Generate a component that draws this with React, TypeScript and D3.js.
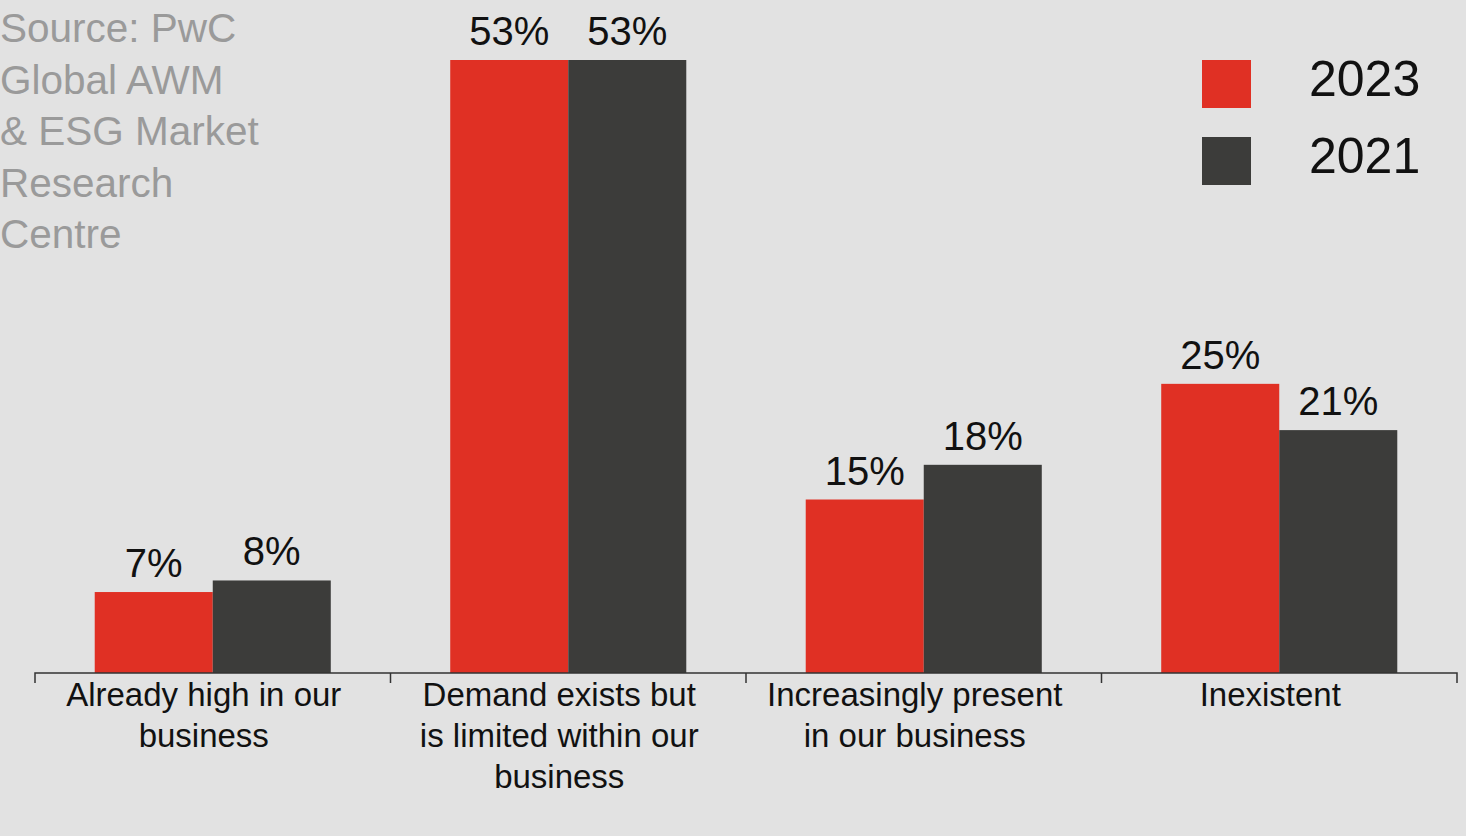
import React from "react";
import * as d3 from "d3";

const categories: string[][] = [
  ["Already high in our", "business"],
  ["Demand exists but", "is limited within our", "business"],
  ["Increasingly present", "in our business"],
  ["Inexistent"],
];
const series = ["2023", "2021"];
const values2023 = [7, 53, 15, 25];
const values2021 = [8, 53, 18, 21];
const seriesColors = ["#e03024", "#3c3c3a"];
const sourceLines = ["Source: PwC", "Global AWM", "& ESG Market", "Research", "Centre"];

const W = 1466;
const H = 836;
const FONT = "'Liberation Sans', Arial, Helvetica, sans-serif";

export default function App() {
  const x0 = d3
    .scaleBand<number>()
    .domain(categories.map((_, i) => i))
    .range([35, 1457])
    .paddingInner(0.336)
    .paddingOuter(0.168);
  const x1 = d3.scaleBand<number>().domain([0, 1]).range([0, x0.bandwidth()]);
  const y = d3.scaleLinear().domain([0, 53]).range([673, 60]);
  const data = [values2023, values2021];
  const step = x0.step();
  const ticks = d3.range(categories.length + 1).map((i) => 35 + i * step);

  return (
    <svg
      width={W}
      height={H}
      style={{ position: "fixed", left: 0, top: 0, background: "#e2e2e2", display: "block" }}
      fontFamily={FONT}
    >
      <rect x={0} y={0} width={W} height={H} fill="#e2e2e2" />
      {sourceLines.map((t, i) => (
        <text key={t} x={0} y={42 + i * 51.5} fontSize={40.5} fill="#9a9a9a">
          {t}
        </text>
      ))}
      {categories.map((_, ci) =>
        data.map((vals, si) => {
          const bx = (x0(ci) as number) + (x1(si) as number);
          const bw = x1.bandwidth();
          const yy = y(vals[ci]);
          return (
            <g key={`${ci}-${si}`}>
              <rect x={bx} y={yy} width={bw} height={y(0) - yy} fill={seriesColors[si]} />
              <text x={bx + bw / 2} y={yy - 15} textAnchor="middle" fontSize={40} fill="#111">
                {vals[ci]}%
              </text>
            </g>
          );
        })
      )}
      <path
        d={`M${ticks[0]},683V673H${ticks[ticks.length - 1]}V683`}
        fill="none"
        stroke="#333"
        strokeWidth={1.5}
      />
      {ticks.slice(1, -1).map((t) => (
        <line key={t} x1={t} x2={t} y1={673} y2={683} stroke="#333" strokeWidth={1.5} />
      ))}
      {categories.map((lines, ci) => (
        <text
          key={ci}
          x={(x0(ci) as number) + x0.bandwidth() / 2 - 9}
          textAnchor="middle"
          fontSize={33}
          fill="#111"
        >
          {lines.map((l, li) => (
            <tspan key={li} x={(x0(ci) as number) + x0.bandwidth() / 2 - 9} y={706 + li * 41}>
              {l}
            </tspan>
          ))}
        </text>
      ))}
      {series.map((s, i) => (
        <g key={s}>
          <rect x={1202} y={60 + i * 77} width={49} height={48} fill={seriesColors[i]} />
          <text x={1309} y={96 + i * 77} fontSize={50} fill="#111">
            {s}
          </text>
        </g>
      ))}
    </svg>
  );
}
